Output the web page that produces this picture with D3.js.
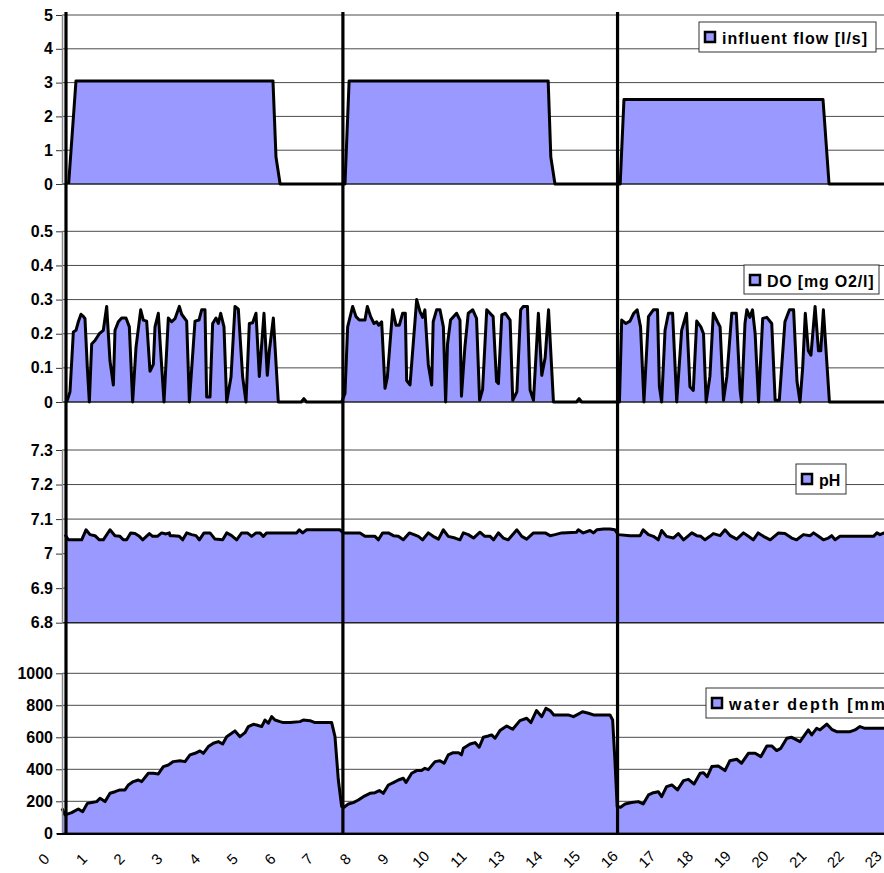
<!DOCTYPE html>
<meta charset="utf-8">
<style>
body {
  margin: 0;
  background-color: #ffffff;
}
svg { display: block; }
.grid line {
  stroke: #4a4a4a;
  stroke-width: 1px;
}
.area {
  fill: #9999FF;
}
.line {
  fill: none;
  stroke: #000;
  stroke-width: 3px;
  stroke-linejoin: round;
}
.cycle {
  stroke: #000;
  stroke-width: 3.2px;
}
.y.axis text {
  font-family: "Liberation Sans", Arial, sans-serif;
  font-weight: bold;
  font-size: 16px;
  fill: #000;
}
.y.axis path { stroke: #888; stroke-width: 1.5px; }
.y.axis line { stroke: #333; stroke-width: 1px; }
.x.axis text {
  font-family: "Liberation Sans", Arial, sans-serif;
  font-size: 15px;
  fill: #000;
}
.legend rect.box {
  fill: #fff;
  stroke: #333;
  stroke-width: 1px;
}
.legend rect.key {
  fill: #9999FF;
  stroke: #000;
  stroke-width: 2.5px;
}
.legend text {
  font-family: "Liberation Sans", Arial, sans-serif;
  font-weight: bold;
  font-size: 16px;
  fill: #000;
}
</style>
<svg width="884" height="873"></svg>
<script src="https://d3js.org/d3.v7.min.js"></script>
<script>

// x axis category labels (12 is missing in the original)
var xLabels = ["0","1","2","3","4","5","6","7","8","9","10","11","13","14","15","16","17","18","19","20","21","22","23"];

// start of each cycle (thick vertical lines), in axis units
var cycleStarts = [0.61, 7.955, 15.24];

// [t, value] — t in axis label units
var flowData = [[0.68,0],[0.875,3.05],[6.10,3.05],[6.18,0.8],[6.29,0],[8.01,0],[8.12,3.05],[13.40,3.05],
  [13.47,0.8],[13.58,0],[15.31,0],[15.41,2.5],[20.69,2.5],[20.85,0],[22.6,0]];

var doData = [[0.628,0],[0.716,0.03],[0.805,0.205],[0.875,0.21],[0.937,0.235],[1.008,0.257],[1.070,0.251],
  [1.114,0.244],[1.176,0.1],[1.229,0],[1.291,0.17],[1.379,0.18],[1.494,0.2],[1.600,0.21],[1.689,0.28],
  [1.777,0.12],[1.866,0.05],[1.910,0.21],[1.998,0.235],[2.087,0.246],[2.202,0.246],[2.290,0.22],[2.378,0],
  [2.467,0.16],[2.591,0.27],[2.661,0.24],[2.750,0.237],[2.838,0.09],[2.927,0.11],[2.971,0.22],[3.059,0.26],
  [3.121,0.15],[3.210,0],[3.324,0.246],[3.413,0.235],[3.501,0.244],[3.616,0.28],[3.678,0.257],[3.811,0.237],
  [3.882,0],[4.032,0.237],[4.138,0.24],[4.209,0.27],[4.297,0.27],[4.341,0.015],[4.430,0.015],[4.500,0.23],
  [4.589,0.246],[4.651,0.23],[4.713,0.26],[4.801,0.22],[4.872,0],[4.987,0.073],[5.093,0.28],[5.181,0.272],
  [5.296,0.073],[5.385,0],[5.473,0.23],[5.561,0.232],[5.650,0.26],[5.738,0.075],[5.862,0.26],[5.950,0.078],
  [6.004,0.15],[6.110,0.246],[6.242,0],
  [6.85,0],[6.92,0.01],[6.99,0],
  [7.922,0],[8.01,0.025],[8.081,0.22],[8.214,0.28],[8.302,0.25],[8.391,0.24],[8.541,0.24],[8.603,0.28],
  [8.691,0.25],[8.780,0.23],[8.851,0.235],[8.904,0.225],[8.983,0.235],[9.072,0.04],[9.134,0.073],[9.275,0.27],
  [9.363,0.225],[9.452,0.225],[9.54,0.26],[9.611,0.26],[9.646,0.063],[9.735,0.05],[9.912,0.3],[10.0,0.265],
  [10.07,0.248],[10.13,0.27],[10.22,0.11],[10.31,0.05],[10.35,0.235],[10.44,0.27],[10.53,0.27],[10.62,0.22],
  [10.68,0],[10.73,0.17],[10.81,0.24],[10.97,0.26],[11.06,0.24],[11.10,0.017],[11.19,0.16],[11.28,0.26],
  [11.40,0.27],[11.50,0.245],[11.58,0.005],[11.66,0.036],[11.77,0.27],[11.94,0.25],[12.03,0.06],[12.08,0.054],
  [12.17,0.255],[12.26,0.26],[12.39,0.24],[12.46,0.005],[12.57,0.03],[12.67,0.27],[12.74,0.28],[12.85,0.28],
  [12.92,0.035],[13.01,0.005],[13.14,0.26],[13.23,0.078],[13.32,0.13],[13.41,0.27],[13.54,0],
  [14.15,0],[14.22,0.01],[14.29,0],
  [15.29,0],[15.35,0.24],[15.46,0.23],[15.57,0.237],[15.67,0.26],[15.76,0.27],[15.85,0.22],[15.94,0],
  [16.06,0.25],[16.19,0.27],[16.30,0.27],[16.35,0.045],[16.41,0],[16.50,0.21],[16.59,0.26],[16.70,0.26],
  [16.81,0],[16.94,0.21],[17.07,0.26],[17.16,0.045],[17.25,0.034],[17.34,0.237],[17.45,0.22],[17.52,0.2],
  [17.59,0],[17.69,0.075],[17.78,0.26],[17.89,0.235],[17.96,0.22],[18.05,0.005],[18.14,0.075],[18.27,0.26],
  [18.39,0.26],[18.49,0.035],[18.53,0],[18.62,0.23],[18.67,0.27],[18.75,0.248],[18.82,0.27],[18.89,0.2],
  [18.98,0],[19.09,0.245],[19.20,0.248],[19.33,0.23],[19.42,0.005],[19.53,0.005],[19.68,0.235],[19.80,0.27],
  [19.91,0.27],[20.0,0.06],[20.08,0],[20.15,0.1],[20.22,0.26],[20.30,0.15],[20.37,0.137],[20.48,0.28],
  [20.57,0.15],[20.63,0.15],[20.70,0.27],[20.86,0],[22.6,0]];

var phData = [[0.584,7.055],[0.672,7.04],[1.026,7.04],[1.141,7.069],[1.247,7.055],[1.379,7.052],[1.494,7.04],
  [1.600,7.04],[1.777,7.069],[1.910,7.052],[2.042,7.05],[2.131,7.04],[2.219,7.04],[2.325,7.06],[2.440,7.058],
  [2.555,7.05],[2.644,7.04],[2.821,7.058],[2.909,7.05],[3.033,7.05],[3.148,7.06],[3.263,7.057],[3.351,7.06],
  [3.369,7.052],[3.457,7.052],[3.616,7.05],[3.705,7.04],[3.811,7.06],[3.943,7.055],[4.058,7.052],[4.147,7.04],
  [4.271,7.06],[4.430,7.06],[4.562,7.042],[4.766,7.04],[4.872,7.06],[5.004,7.052],[5.137,7.04],[5.270,7.06],
  [5.420,7.06],[5.535,7.05],[5.650,7.06],[5.756,7.06],[5.844,7.05],[5.933,7.06],[6.729,7.06],[6.799,7.069],
  [6.888,7.06],[6.994,7.069],[7.878,7.069],[7.966,7.06],[8.408,7.06],[8.541,7.05],[8.806,7.05],[8.895,7.04],
  [9.010,7.06],[9.160,7.06],[9.293,7.052],[9.425,7.05],[9.558,7.04],[9.717,7.06],[9.841,7.055],[9.956,7.05],
  [10.07,7.04],[10.22,7.06],[10.35,7.05],[10.49,7.042],[10.62,7.069],[10.75,7.05],[10.93,7.045],[11.06,7.04],
  [11.15,7.06],[11.28,7.055],[11.42,7.045],[11.59,7.062],[11.72,7.05],[11.86,7.05],[11.95,7.04],[12.08,7.06],
  [12.21,7.045],[12.34,7.04],[12.57,7.069],[12.70,7.05],[12.83,7.042],[13.01,7.06],[13.32,7.06],[13.45,7.052],
  [13.58,7.055],[13.76,7.06],[14.15,7.062],[14.20,7.069],[14.33,7.06],[14.51,7.067],[14.60,7.06],[14.69,7.069],
  [14.87,7.071],[15.04,7.071],[15.17,7.069],[15.26,7.055],[15.57,7.052],[15.84,7.052],[15.92,7.069],[16.06,7.055],
  [16.19,7.05],[16.32,7.04],[16.41,7.067],[16.54,7.05],[16.72,7.045],[16.85,7.058],[16.99,7.04],[17.21,7.06],
  [17.34,7.052],[17.45,7.05],[17.56,7.04],[17.69,7.05],[17.78,7.058],[17.96,7.052],[18.09,7.069],[18.23,7.052],
  [18.40,7.042],[18.58,7.06],[18.71,7.05],[18.84,7.04],[18.97,7.06],[19.11,7.05],[19.29,7.04],[19.51,7.06],
  [19.68,7.058],[19.86,7.045],[19.99,7.04],[20.17,7.055],[20.35,7.052],[20.44,7.06],[20.57,7.05],[20.70,7.04],
  [20.83,7.045],[20.92,7.052],[21.01,7.04],[21.14,7.05],[22.03,7.05],[22.12,7.06],[22.20,7.055],[22.31,7.06],
  [22.6,7.06]];

var depthData = [[0.504,156],[0.584,115],[0.760,129],[0.937,152],[1.052,135],[1.176,187],[1.291,192],
  [1.424,198],[1.512,219],[1.645,198],[1.777,250],[1.910,260],[2.042,271],[2.175,271],[2.263,302],[2.396,323],
  [2.529,333],[2.617,323],[2.794,375],[2.927,375],[3.059,371],[3.192,417],[3.324,427],[3.457,448],[3.634,454],
  [3.767,448],[3.899,490],[4.032,500],[4.164,515],[4.253,500],[4.386,542],[4.518,563],[4.651,573],[4.766,558],
  [4.872,604],[5.004,625],[5.093,640],[5.225,604],[5.358,629],[5.447,667],[5.579,681],[5.668,677],[5.800,667],
  [5.889,708],[5.977,688],[6.065,729],[6.154,708],[6.287,698],[6.375,692],[6.552,692],[6.817,698],[6.905,708],
  [7.082,704],[7.215,692],[7.657,692],[7.745,604],[7.834,333],[7.922,167],[7.984,163],[8.099,183],[8.232,192],
  [8.364,208],[8.497,229],[8.674,250],[8.806,254],[8.921,267],[9.027,250],[9.160,302],[9.293,317],[9.425,333],
  [9.558,344],[9.629,317],[9.779,375],[9.912,392],[10.04,392],[10.13,406],[10.22,398],[10.40,448],[10.53,454],
  [10.64,438],[10.75,490],[10.88,504],[11.02,504],[11.10,490],[11.15,531],[11.33,558],[11.46,567],[11.57,538],
  [11.68,600],[11.81,608],[11.90,615],[11.99,594],[12.12,642],[12.30,671],[12.46,650],[12.65,704],[12.83,719],
  [12.94,692],[13.09,767],[13.23,729],[13.34,781],[13.45,767],[13.55,740],[13.93,740],[14.07,729],[14.16,740],
  [14.31,760],[14.47,750],[14.60,740],[15.04,740],[15.11,708],[15.17,458],[15.23,167],[15.32,163],[15.44,183],
  [15.61,192],[15.79,198],[15.92,183],[16.06,240],[16.19,254],[16.32,260],[16.41,229],[16.54,292],[16.68,302],
  [16.83,271],[16.99,329],[17.12,337],[17.27,308],[17.43,375],[17.52,379],[17.62,354],[17.74,417],[17.91,421],
  [18.09,392],[18.22,454],[18.40,463],[18.53,438],[18.71,500],[18.89,500],[19.04,479],[19.20,546],[19.33,546],
  [19.46,517],[19.57,531],[19.73,594],[19.86,600],[20.08,573],[20.30,646],[20.39,615],[20.52,656],[20.61,646],
  [20.79,683],[20.92,650],[21.05,635],[21.41,635],[21.54,646],[21.67,667],[21.80,656],[22.31,656],[22.6,656]];

var flowTicks = [0, 1, 2, 3, 4, 5];
var doTicks = [0, 0.1, 0.2, 0.3, 0.4, 0.5];
var phTicks = [6.8, 6.9, 7, 7.1, 7.2, 7.3];
var depthTicks = [0, 200, 400, 600, 800, 1000];

var svg = d3.select("svg"),
    plotLeft = 62,
    plotRight = 900;

var x = d3.scaleLinear().domain([0, 22]).range([43, 872.4]);

var trimFmt = function(d) { return String(+d.toFixed(2)); };

var panels = [
  {data: flowData, ticks: flowTicks, range: [184, 15], name: "influent flow [l/s]",
   legend: {x: 699, y: 22, w: 177, h: 30, ls: 1}},
  {data: doData, ticks: doTicks, range: [402, 231.3], name: "DO [mg O2/l]",
   legend: {x: 744, y: 265, w: 135, h: 29, ls: 0.8}},
  {data: phData, ticks: phTicks, range: [622.7, 450], name: "pH",
   legend: {x: 796, y: 464, w: 50, h: 30, ls: 0}},
  {data: depthData, ticks: depthTicks, range: [833.3, 673.3], name: "water depth [mm]",
   legend: {x: 706, y: 688, w: 200, h: 30, ls: 2}}
];

panels.forEach(function(p) {
  var lo = p.ticks[0], hi = p.ticks[p.ticks.length - 1];
  var y = d3.scaleLinear().domain([lo, hi]).range(p.range);
  var g = svg.append("g");

  g.append("g").attr("class", "grid")
    .selectAll("line").data(p.ticks.slice(1)).enter().append("line")
      .attr("x1", plotLeft).attr("x2", plotRight)
      .attr("y1", function(d) { return y(d); })
      .attr("y2", function(d) { return y(d); });

  var area = d3.area()
      .x(function(d) { return x(d[0]); })
      .y0(y(lo))
      .y1(function(d) { return y(d[1]); });
  var line = d3.line()
      .x(function(d) { return x(d[0]); })
      .y(function(d) { return y(d[1]); });

  g.append("path").datum(p.data).attr("class", "area").attr("d", area);
  g.append("line")
      .attr("x1", plotLeft).attr("x2", plotRight)
      .attr("y1", y(lo)).attr("y2", y(lo))
      .attr("stroke", "#222").attr("stroke-width", 1.5);
  g.append("path").datum(p.data).attr("class", "line").attr("d", line);

  p.y = y;
});

// thick cycle markers
svg.append("g").selectAll(".cycle").data(cycleStarts).enter().append("line")
    .attr("class", "cycle")
    .attr("x1", function(d) { return x(d); })
    .attr("x2", function(d) { return x(d); })
    .attr("y1", 12)
    .attr("y2", 835);

// y axes
panels.forEach(function(p) {
  svg.append("g")
      .attr("class", "y axis")
      .attr("transform", "translate(" + plotLeft + ",0)")
      .call(d3.axisLeft(p.y).tickValues(p.ticks).tickSize(6).tickSizeOuter(0).tickPadding(3).tickFormat(trimFmt));
});

// x axis
var xAxis = svg.append("g")
    .attr("class", "x axis")
    .attr("transform", "translate(0,834)")
    .call(d3.axisBottom(x).tickValues(d3.range(xLabels.length)).tickSize(0)
      .tickFormat(function(d) { return xLabels[d]; }));
xAxis.select(".domain").remove();
xAxis.selectAll("text")
    .attr("y", 0).attr("dy", null)
    .attr("text-anchor", "middle")
    .attr("dominant-baseline", "central")
    .attr("transform", "translate(0,25) rotate(-45)");
svg.append("line")
    .attr("x1", plotLeft - 5).attr("x2", plotRight)
    .attr("y1", 834).attr("y2", 834)
    .attr("stroke", "#000").attr("stroke-width", 2);

// legends
panels.forEach(function(p) {
  var L = p.legend;
  var lg = svg.append("g").attr("class", "legend")
      .attr("transform", "translate(" + L.x + "," + L.y + ")");
  lg.append("rect").attr("class", "box").attr("width", L.w).attr("height", L.h);
  lg.append("rect").attr("class", "key").attr("x", 6).attr("y", 10).attr("width", 10).attr("height", 10);
  lg.append("text").attr("x", 23).attr("y", 21.5)
      .style("letter-spacing", L.ls + "px")
      .text(p.name);
});

</script>
